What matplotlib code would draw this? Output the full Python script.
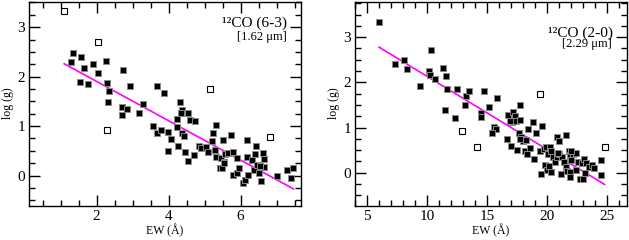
import matplotlib
matplotlib.use("Agg")
import matplotlib.pyplot as plt
from matplotlib.ticker import MultipleLocator

plt.rcParams['font.family'] = ['Liberation Serif', 'DejaVu Serif']

# 12CO (6-3) at 1.62 micron : EW (A) vs log(g)
ew_63 = [1.34, 1.28, 1.57, 1.65, 1.54, 1.77, 1.91, 2.03, 2.25, 2.30, 2.35, 2.32, 2.72, 2.71,
         2.83, 2.70, 2.92, 3.18, 3.29, 3.56, 3.68, 3.87, 3.68, 3.80, 3.98, 3.99, 4.07, 4.22,
         4.22, 4.31, 4.38, 4.35, 4.25, 4.37, 4.42, 4.46, 4.55, 4.59, 4.72, 4.55, 4.71, 4.84,
         4.91, 5.03, 5.10, 5.20, 5.23, 5.31, 5.28, 5.33, 5.42, 5.49, 5.51, 5.47, 5.55, 5.58,
         5.53, 5.64, 5.73, 5.79, 5.79, 5.90, 5.95, 5.90, 6.06, 6.11, 6.17, 6.17, 6.21, 6.31,
         6.38, 6.43, 6.41, 6.47, 6.51, 6.56, 6.62, 6.64, 6.66, 6.55, 7.02, 7.28, 7.39, 7.47]
logg_63 = [2.48, 2.30, 2.40, 2.17, 1.90, 1.85, 2.26, 2.07, 2.31, 1.87, 1.71, 1.49, 2.13, 1.39,
           1.35, 1.22, 1.81, 1.26, 1.45, 1.00, 1.81, 1.66, 0.87, 0.92, 0.89, 0.50, 0.73, 1.15,
           0.98, 1.49, 1.33, 1.26, 0.60, 0.86, 0.79, 0.48, 1.26, 1.12, 1.11, 0.30, 0.42, 0.59,
           0.55, 0.57, 0.48, 0.69, 0.87, 1.03, 0.52, 0.38, 0.16, 0.15, 0.72, 0.35, 0.28, 0.43,
           0.25, 0.45, 0.82, 0.48, 0.01, 0.05, 0.15, 0.35, -0.15, -0.09, 0.72, 0.38, 0.01, 0.32,
           0.11, 0.59, 0.44, 0.22, 0.05, -0.12, 0.45, 0.34, 0.18, 0.20, 0.00, 0.11, -0.05, 0.16]
ew_63_open = [1.10, 2.03, 2.28, 5.16, 6.82]
logg_63_open = [3.33, 2.71, 0.93, 1.75, 0.78]
fit_63_x = [1.10, 7.47]
fit_63_y = [2.26, -0.27]

# 12CO (2-0) at 2.29 micron
ew_20 = [6.00, 10.30, 7.36, 8.08, 8.36, 9.41, 10.16, 10.21, 10.66, 11.32, 11.55, 11.66, 11.49,
         12.30, 12.52, 13.21, 13.16, 13.49, 14.71, 14.51, 14.51, 15.15, 15.80, 17.70, 16.73,
         17.15, 17.29, 17.09, 17.43, 17.70, 16.87, 18.81, 19.59, 18.40, 19.09, 15.54, 15.76,
         15.43, 17.65, 17.84, 17.98, 17.70, 18.26, 16.68, 16.98, 17.48, 18.12, 18.31, 18.59,
         18.87, 19.37, 19.70, 19.87, 20.26, 20.06, 20.34, 20.81, 20.98, 21.53, 20.48, 20.62,
         20.81, 20.98, 21.25, 20.89, 21.81, 21.87, 22.14, 22.36, 22.00, 21.39, 21.59, 21.64,
         21.87, 19.78, 19.98, 20.15, 20.34, 19.45, 21.17, 21.87, 22.36, 22.70, 22.97, 23.11,
         22.56, 22.92, 23.03, 23.20, 23.47, 23.75, 23.86, 24.50, 24.45, 22.00]
logg_20 = [3.33, 2.72, 2.40, 2.49, 2.30, 1.91, 2.25, 2.17, 2.07, 2.31, 2.13, 1.85, 1.39,
           1.22, 1.85, 1.70, 1.49, 1.81, 1.80, 1.32, 1.24, 1.45, 1.66, 1.50, 1.28,
           1.35, 1.26, 1.13, 1.15, 1.17, 1.15, 1.13, 1.03, 0.96, 0.89, 1.02, 0.96,
           0.87, 0.87, 0.80, 0.71, 0.74, 0.72, 0.74, 0.59, 0.50, 0.49, 0.41, 0.54,
           0.30, 0.47, 0.52, 0.58, 0.58, 0.41, 0.47, 0.80, 0.71, 0.84, 0.34, 0.24,
           0.35, 0.41, 0.34, 0.44, 0.49, 0.39, 0.41, 0.43, 0.28, 0.24, 0.13, 0.04,
           0.02, 0.17, 0.07, 0.15, 0.02, -0.03, -0.03, -0.10, 0.06, -0.15, -0.13, -0.01,
           0.24, 0.21, 0.30, 0.21, 0.12, 0.17, 0.10, 0.28, -0.05, 0.49]
ew_20_open = [19.37, 12.93, 14.18, 24.78]
logg_20_open = [1.75, 0.93, 0.58, 0.57]
fit_20_x = [6.00, 24.78]
fit_20_y = [2.78, -0.26]

fig = plt.figure(figsize=(6.29, 2.40), dpi=100)
ax1 = fig.add_axes([29 / 629, 34.3 / 240, 272 / 629, 204.2 / 240])
ax2 = fig.add_axes([355 / 629, 34.3 / 240, 271.5 / 629, 204.2 / 240])

# axes, data, limits, x tick steps, label texts and their positions
panels = [
    (ax1, ew_63, logg_63, ew_63_open, logg_63_open, fit_63_x, fit_63_y,
     (0.12, 7.68), (-0.61, 3.52), 2, 0.5, "¹²CO (6-3)", "[1.62 μm]", 0.895, 0.826),
    (ax2, ew_20, logg_20, ew_20_open, logg_20_open, fit_20_x, fit_20_y,
     (4.0, 26.6), (-0.73, 3.79), 5, 1, "¹²CO (2-0)", "[2.29 μm]", 0.846, 0.79),
]

for ax, x, y, xo, yo, fx, fy, xl, yl, xmaj, xmin, name, wav, ny, wy in panels:
    ax.plot(fx, fy, color="#ff00ff", linewidth=1.2, zorder=1)
    ax.plot(x, y, linestyle="none", marker="s", markersize=5.0, markerfacecolor="black",
            markeredgecolor="#8a8a8a", markeredgewidth=0.7, zorder=2)
    ax.plot(xo, yo, linestyle="none", marker="s", markersize=4.6, markerfacecolor="white",
            markeredgecolor="black", markeredgewidth=0.8, zorder=2)
    ax.set_xlim(xl)
    ax.set_ylim(yl)
    ax.xaxis.set_major_locator(MultipleLocator(xmaj))
    ax.xaxis.set_minor_locator(MultipleLocator(xmin))
    ax.yaxis.set_major_locator(MultipleLocator(1))
    ax.yaxis.set_minor_locator(MultipleLocator(0.25))
    ax.tick_params(which="both", direction="in", top=True, right=True, labelsize=11, width=1.0)
    ax.tick_params(which="major", length=8, pad=3)
    ax.tick_params(which="minor", length=4.5)
    for s in ax.spines.values():
        s.set_linewidth(1.0)
    ax.set_xlabel("EW (Å)", fontsize=8.5, labelpad=1)
    ax.set_ylabel("log (g)", fontsize=8.5, labelpad=2)
    ax.text(0.95, ny, name, transform=ax.transAxes, ha="right", va="center", fontsize=11)
    ax.text(0.947, wy, wav, transform=ax.transAxes, ha="right", va="center", fontsize=9)

fig.savefig("out.png", dpi=100)
